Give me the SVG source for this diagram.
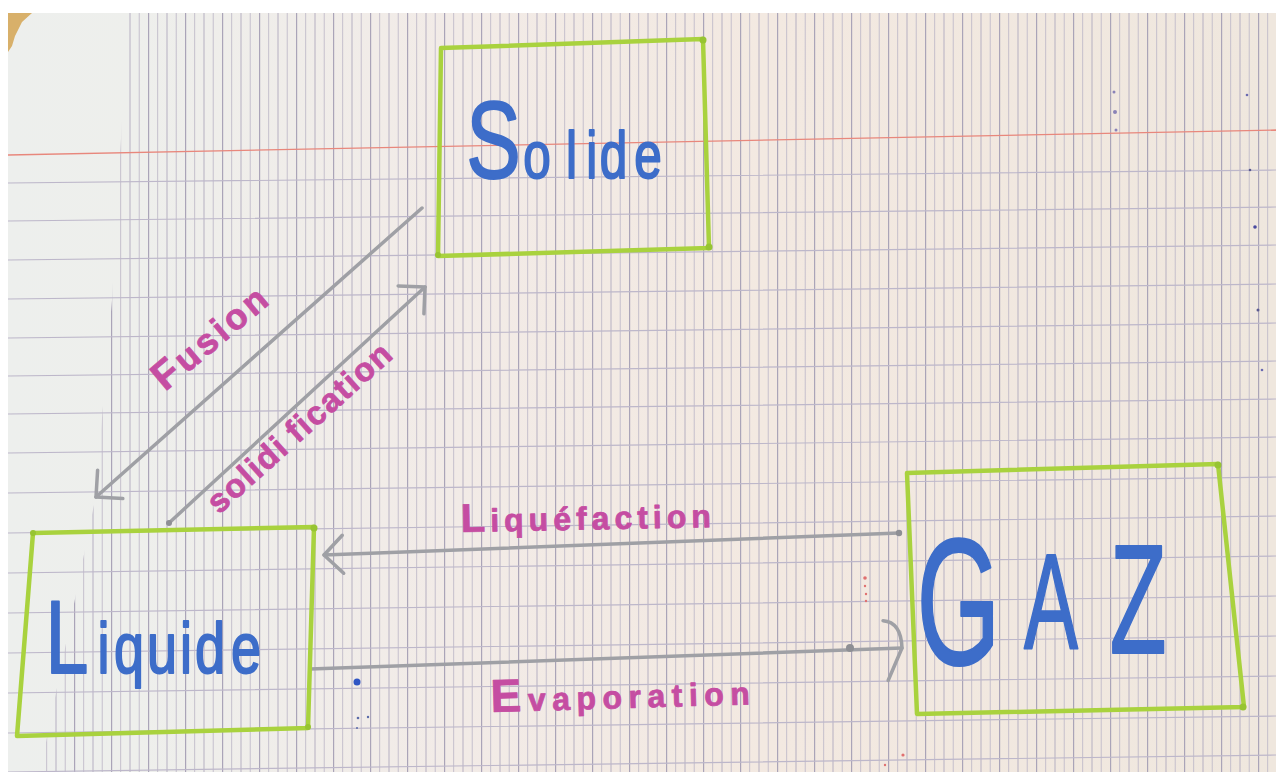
<svg xmlns="http://www.w3.org/2000/svg" width="1276" height="772" viewBox="0 0 1276 772">
<defs>
<style>
.box{fill:none;stroke:#a9d23e;stroke-width:4.5;stroke-linejoin:round;stroke-linecap:round}
.corner{fill:#97c432}
.blue{font-family:"Liberation Sans",Arial,sans-serif;fill:#3d6dc9;stroke:#3d6dc9;stroke-width:2;stroke-linejoin:round}
.pink{font-family:"Liberation Sans",Arial,sans-serif;font-weight:bold;fill:#c54da2;stroke:#c54da2;stroke-width:0.8;stroke-linejoin:round}
.arrow{fill:none;stroke:#9fa0a5;stroke-width:3.5;stroke-linecap:round;stroke-linejoin:round}
.dot{fill:#8e8f94}
.hl{fill:none;stroke:#bdb7ca;stroke-width:1.2}
.red{fill:none;stroke:#e8877c;stroke-width:1.4}
</style>
<linearGradient id="paper" x1="0" y1="0" x2="1" y2="0">
<stop offset="0" stop-color="#edefed"/>
<stop offset="0.1" stop-color="#eeefec"/>
<stop offset="0.35" stop-color="#f2ebe7"/>
<stop offset="0.6" stop-color="#f3e9e1"/>
<stop offset="1" stop-color="#efe7de"/>
</linearGradient>
<pattern id="vlines" x="0" y="0" width="37" height="10" patternUnits="userSpaceOnUse">
<rect x="0" y="0" width="1.2" height="10" fill="#aaa4b8"/>
<rect x="9.25" y="0" width="0.9" height="10" fill="#c0bac9"/>
<rect x="18.5" y="0" width="1" height="10" fill="#b6b0c2"/>
<rect x="27.75" y="0" width="0.9" height="10" fill="#c0bac9"/>
</pattern>
<clipPath id="gridclip">
<path d="M128,13 L1276,13 L1276,772 L40,772 L95,500 L112,300 Z"/>
</clipPath>
<marker id="chev" viewBox="-24 -24 28 48" refX="0" refY="0" markerWidth="28" markerHeight="48" markerUnits="userSpaceOnUse" orient="auto" overflow="visible">
<path class="arrow" d="M-19,-19 L0,0 L-19,19"/>
</marker>
<marker id="curv" viewBox="-24 -34 28 70" refX="0" refY="0" markerWidth="28" markerHeight="70" markerUnits="userSpaceOnUse" orient="auto" overflow="visible">
<path class="arrow" d="M-18,-28 Q0,-26 0,0 L-15,32"/>
</marker>
</defs>

<g id="paper-sheet">
<rect x="0" y="0" width="1276" height="772" fill="#ffffff"/>
<rect x="8" y="13" width="1268" height="759" fill="url(#paper)"/>
<polygon points="8,13 32,13 22,22 15,36 12,46 8,52" fill="#d8b06a"/>
<rect x="8" y="13" width="1268" height="759" fill="url(#vlines)" clip-path="url(#gridclip)"/>
<path class="hl" d="M8,183 L1276,170 M8,221 L1276,207 M8,260 L1276,245 M8,299 L1276,284 M8,338 L1276,323 M8,376 L1276,361 M8,414 L1276,399 M8,453 L1276,437 M8,493 L1276,477 M8,533 L1276,516 M8,573 L1276,556 M8,613 L1276,596 M8,653 L1276,636 M8,693 L1276,676 M8,733 L1276,716 M8,772 L1276,755"/>
<path class="red" d="M8,155 L1276,130"/>
</g>

<g id="marks">
<circle cx="357" cy="682" r="3.5" fill="#2f55c4"/>
<circle cx="358" cy="718" r="1.3" fill="#5a6aa8"/>
<circle cx="368" cy="717" r="1.2" fill="#5a6aa8"/>
<circle cx="357" cy="728" r="1" fill="#5a6aa8"/>
<circle cx="865" cy="578" r="1.8" fill="#e07070"/>
<circle cx="865" cy="586" r="1.2" fill="#e07070"/>
<circle cx="866" cy="594" r="1.2" fill="#e07070"/>
<circle cx="866" cy="601" r="1.2" fill="#e07070"/>
<circle cx="903" cy="755" r="1.6" fill="#e07070"/>
<circle cx="885" cy="765" r="1.2" fill="#e07070"/>
<circle cx="1114" cy="92" r="1.5" fill="#8a82b8"/>
<circle cx="1115" cy="112" r="2" fill="#8a82b8"/>
<circle cx="1116" cy="130" r="1.5" fill="#8a82b8"/>
<circle cx="1247" cy="95" r="1.3" fill="#6a6ab0"/>
<circle cx="1250" cy="170" r="1.3" fill="#5a5a90"/>
<circle cx="1255" cy="227" r="1.8" fill="#4a4aa0"/>
<circle cx="1258" cy="310" r="1.5" fill="#5a5a90"/>
<circle cx="1262" cy="370" r="1.3" fill="#6a6ab0"/>
</g>

<g id="connectors">
<g id="edge-fusion">
<path class="arrow" d="M422,208 L96,497" marker-end="url(#chev)"/>
</g>
<g id="edge-solidification">
<path class="arrow" d="M169,523 L425,287" marker-end="url(#chev)"/>
<circle class="dot" cx="169" cy="523" r="3"/>
</g>
<g id="edge-liquefaction">
<path class="arrow" d="M899,533 L324,555" marker-end="url(#chev)"/>
<circle class="dot" cx="899" cy="533" r="3.2"/>
</g>
<g id="edge-evaporation">
<path class="arrow" d="M310,669 L902,648" marker-end="url(#curv)"/>
<circle class="dot" cx="850" cy="648" r="4"/>
</g>
</g>

<g id="labels">
<text class="pink" font-size="36" letter-spacing="3.5" transform="translate(165,392) rotate(-40)"><tspan font-size="40">F</tspan>usion</text>
<text class="pink" font-size="33" letter-spacing="1.8" transform="translate(219,515) rotate(-42)">solidi<tspan dx="9">fication</tspan></text>
<text class="pink" font-size="32" letter-spacing="5" transform="translate(461,532) rotate(-1.1)"><tspan font-size="40">L</tspan>iquéfaction</text>
<text class="pink" font-size="32" letter-spacing="6.5" transform="translate(491,712) rotate(-1.7)"><tspan font-size="46">E</tspan>vaporation</text>
</g>

<g id="node-solide">
<polygon class="box" points="441,48 703,39 709,248 438,256"/>
<circle class="corner" cx="703" cy="40" r="3.5"/>
<circle class="corner" cx="709" cy="247" r="3.5"/>
<circle class="corner" cx="438" cy="255" r="3"/>
<text class="blue" transform="translate(470,178) scale(0.75,1)"><tspan x="-5" font-size="109">S</tspan><tspan font-size="66" x="71 128 155 173 219">olide</tspan></text>
</g>

<g id="node-liquide">
<polygon class="box" points="33,533 314,527 308,728 17,736"/>
<circle class="corner" cx="33" cy="533" r="3"/>
<circle class="corner" cx="314" cy="528" r="3.5"/>
<circle class="corner" cx="308" cy="727" r="3"/>
<text class="blue" transform="translate(51,673) scale(0.75,1)"><tspan x="-7.5" font-size="103">L</tspan><tspan font-size="72" x="62 84 128 172 192 240">iquide</tspan></text>
</g>

<g id="node-gaz">
<polygon class="box" points="907,473 1218,464 1244,707 917,714"/>
<circle class="corner" cx="1218" cy="465" r="3.5"/>
<circle class="corner" cx="1243" cy="707" r="3.5"/>
<text class="blue" transform="translate(922,652) scale(0.6,1)"><tspan x="-9" y="12" font-size="180">G</tspan><tspan x="170" y="-4" font-size="135">A</tspan><tspan x="313" y="1" font-size="155">Z</tspan></text>
</g>
</svg>
